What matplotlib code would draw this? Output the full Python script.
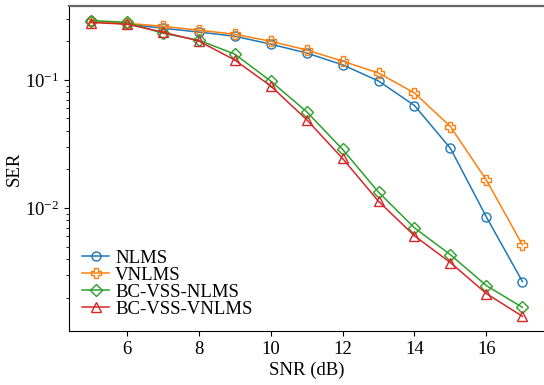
#!/usr/bin/env python
# -*- coding: utf-8 -*-

import numpy as np
import matplotlib
matplotlib.use('Agg')
import matplotlib.pyplot as plt

# SNR 축
snr = [5, 6, 7, 8, 9, 10, 11, 12, 13, 14, 15, 16, 17]

# 각 알고리즘의 SER 값
ser_nlms = [0.287, 0.272, 0.253, 0.236, 0.219, 0.190, 0.162, 0.131, 0.098, 0.063, 0.0292, 0.0085, 0.00267]
ser_vnlms = [0.287, 0.276, 0.262, 0.244, 0.227, 0.200, 0.171, 0.140, 0.113, 0.079, 0.0432, 0.0165, 0.00516]
ser_bc_nlms = [0.290, 0.281, 0.231, 0.204, 0.159, 0.098, 0.0565, 0.0287, 0.0133, 0.0070, 0.00432, 0.00248, 0.00168]
ser_bc_vnlms = [0.280, 0.272, 0.236, 0.201, 0.143, 0.0898, 0.049, 0.0244, 0.0113, 0.00607, 0.00375, 0.00215, 0.00143]

labels = ['NLMS', 'VNLMS', 'BC-VSS-NLMS', 'BC-VSS-VNLMS']


def main():
    plt.rcParams['font.family'] = ['Liberation Serif', 'DejaVu Serif']
    plt.rcParams['mathtext.fontset'] = 'stix'

    fig = plt.figure(figsize=(5.44, 3.85), dpi=100)
    ax = fig.add_axes([0.127, 0.14, 0.873, 0.845])

    series = [ser_nlms, ser_vnlms, ser_bc_nlms, ser_bc_vnlms]
    markers = ['o', 'P', 'D', '^']
    colors = ['#1f77b4', '#ff7f0e', '#2ca02c', '#d62728']
    sizes = [6.5, 7, 6, 7]

    for ser, mk, c, ms, lab in zip(series, markers, colors, sizes, labels):
        ax.semilogy(snr, ser, marker=mk, color=c, markersize=ms, markerfacecolor='none',
                    markeredgewidth=1.0, linewidth=1.1, label=lab)

    ax.set_xlabel('SNR (dB)', fontsize=13.5, labelpad=3)
    ax.set_ylabel('SER', fontsize=13.5, labelpad=2)
    ax.set_xticks([6, 8, 10, 12, 14, 16])
    ax.tick_params(axis='both', which='major', labelsize=13.5)

    ax.spines['top'].set_color('#666666')
    ax.spines['top'].set_linewidth(1.6)
    ax.spines['right'].set_visible(False)

    ax.legend(loc='lower left', frameon=False, fontsize=13.5, handlelength=1.45,
              handletextpad=0.3, labelspacing=0.0, borderaxespad=0.3)

    fig.savefig('out.png', dpi=100)


if __name__ == '__main__':
    main()
